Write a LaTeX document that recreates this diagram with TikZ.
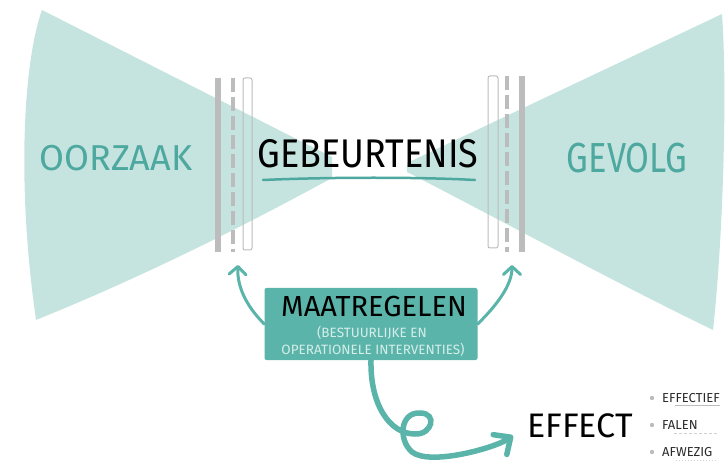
\documentclass[tikz,border=0pt]{standalone}
\usepackage{fontspec}
\newfontfamily\hand[FakeStretch=0.82]{Fira Sans}
\newfontfamily\handmid[FakeStretch=0.9]{Fira Sans}
\newfontfamily\handwide{Fira Sans}
\usetikzlibrary{arrows.meta}
\definecolor{wedgefill}{HTML}{C6E4DF}
\definecolor{tealtxt}{HTML}{4DA89F}
\definecolor{tealbox}{HTML}{5AB4A9}
\definecolor{bargray}{HTML}{BCBCBC}
\definecolor{subtxt}{HTML}{D6EEEA}
\definecolor{darktxt}{HTML}{2A2A2A}

\begin{document}
\begin{tikzpicture}[x=1pt,y=-1pt,
  bar/.style={draw=bargray,line width=6pt},
  dashbar/.style={draw=bargray,line width=4pt,dash pattern=on 14pt off 5pt},
  openbar/.style={draw=bargray,line width=1pt,rounded corners=2pt},
  sideword/.style={text=tealtxt,inner sep=0pt,font=\hand\fontsize{42}{42}\selectfont},
  midword/.style={text=black,inner sep=0pt,font=\handmid\fontsize{40}{40}\selectfont},
  subword/.style={text=subtxt,inner sep=0pt,font=\handwide\fontsize{13.5}{13.5}\selectfont},
  itemword/.style={text=darktxt,inner sep=0pt,anchor=west,font=\handwide\fontsize{13}{13}\selectfont},
  tealarrow/.style={draw=tealbox,line width=3pt,line cap=round,-{Straight Barb[length=8pt,width=17pt,round]}}]
\useasboundingbox (0,0) rectangle (726,465);
% bow tie
\fill[wedgefill] (42,10) .. controls (24,60) and (16,180) .. (36,320)
  .. controls (135,280) and (233,232) .. (332,178) -- (332,157) -- cycle;
\fill[wedgefill] (407,163) -- (722,14) .. controls (728,100) and (722,250) .. (713,330)
  .. controls (610,280) and (510,225) .. (407,172) -- cycle;
% barriers links en rechts
\draw[bar] (218,78) -- (218,252);
\draw[dashbar] (233,78) -- (233,252);
\draw[openbar] (243,78) rectangle (252,250);
\draw[openbar] (488,76) rectangle (498,248);
\draw[dashbar] (507,76) -- (507,252);
\draw[bar] (522,76) -- (522,252);
\coordinate (leftbar) at (238,265);
\coordinate (rightbar) at (512,265);
% woorden
\node[sideword,font=\handwide\fontsize{36}{36}\selectfont] (oorzaak) at (116,158) {OORZAAK};
\node[sideword] (gevolg) at (627,158) {GEVOLG};
\node[midword] (gebeurtenis) at (368,154) {GEBEURTENIS};
\draw[tealtxt,line width=2.5pt,line cap=round] (263,180) .. controls (330,177) and (420,177) .. (475,180);
% maatregelen
\node[fill=tealbox,rounded corners=2pt,minimum width=213pt,minimum height=72pt] (maatregelen) at (371,324) {};
\node[midword,font=\handwide\fontsize{29}{29}\selectfont] (titel) at (374,307) {MAATREGELEN};
\node[subword] (sub1) at (372,333) {(BESTUURLIJKE EN};
\node[subword] (sub2) at (373,350) {OPERATIONELE INTERVENTIES)};
\draw[tealarrow] (maatregelen.west) .. controls (245,305) and (237,285) .. (leftbar);
\draw[tealarrow] (maatregelen.east) .. controls (497,305) and (512,285) .. (rightbar);
% effect
\node[midword,font=\handwide\fontsize{34}{34}\selectfont] (effect) at (580,426) {EFFECT};
\draw[draw=tealbox,line width=5.5pt,line cap=round,-{Straight Barb[length=13pt,width=24pt,round]},shorten >=17pt]
  (maatregelen.south) .. controls (370,405) and (390,434) .. (415,434)
  .. controls (432,435) and (438,413) .. (420,413)
  .. controls (400,412) and (398,440) .. (412,452)
  .. controls (430,466) and (495,448) .. (effect.west);
% lijstje
\node[itemword] (effectief) at (662,398) {EFFECTIEF};
\node[itemword] (falen) at (662,425) {FALEN};
\node[itemword] (afwezig) at (662,452) {AFWEZIG};
\foreach \n in {effectief,falen,afwezig}
  \fill[bargray] ([xshift=-10pt]\n.west) circle (2.2);
\draw[bargray,line width=0.8pt] ([xshift=13pt,yshift=-3pt]effectief.south west) -- ([yshift=-3pt]effectief.south east);
\draw[bargray!70,line width=0.8pt,dash pattern=on 3pt off 2pt] ([xshift=12pt,yshift=-4pt]falen.south west) -- +(44,0);
\draw[bargray!70,line width=0.8pt,dash pattern=on 1pt off 2pt] ([xshift=14pt,yshift=-4pt]afwezig.south west) -- +(42,0);
\end{tikzpicture}
\end{document}
